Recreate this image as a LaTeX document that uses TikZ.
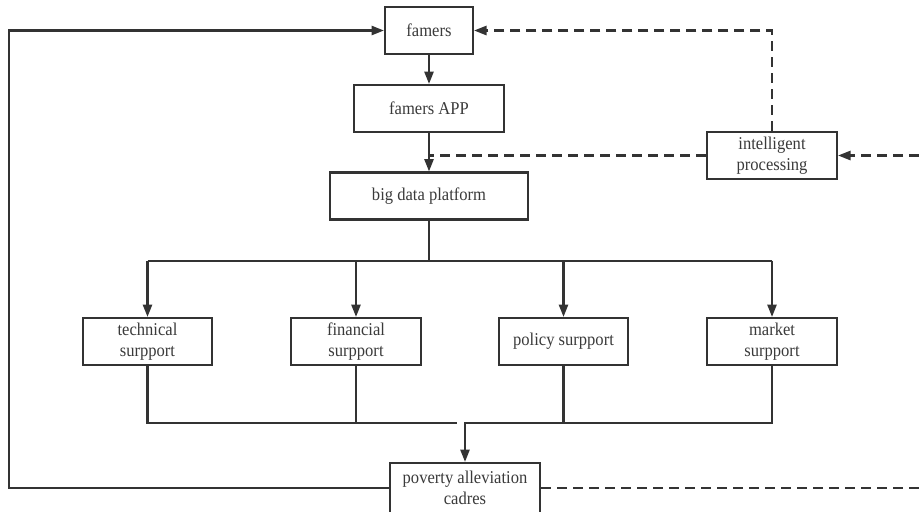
\documentclass[tikz,border=0pt]{standalone}
\usepackage{fontspec}
\setmainfont{Liberation Serif}[FakeStretch=0.92]
\usetikzlibrary{arrows.meta,calc}
\definecolor{lc}{HTML}{333333}
\definecolor{tc}{HTML}{3a3a3a}
\begin{document}
\begin{tikzpicture}[x=0.5pt,y=-0.5pt,
  box/.style={draw=lc, line width=1.1pt, fill=white, inner sep=0pt, align=center,
    font=\fontsize{9}{10.8}\selectfont, text=tc, minimum height=23.5pt},
  conn/.style={draw=lc, line width=1.05pt},
  arr/.style={conn, -{Triangle[length=6.2pt,width=4.6pt]}},
  dsh/.style={dash pattern=on 5pt off 3pt}]
\useasboundingbox (0,0) rectangle (919,511);
\node[box, minimum width=44pt] (fam) at (429,30.5) {famers};
\node[box, minimum width=75pt] (app) at (429,108.5) {famers APP};
\node[box, minimum width=99pt] (bd) at (429,196) {big data platform};
\node[box, minimum width=65pt] (ip) at (772,155.5) {intelligent\\processing};
\node[box, minimum width=64.5pt] (tech) at (147.5,341.5) {technical\\surpport};
\node[box, minimum width=65pt] (fin) at (356,341.5) {financial\\surpport};
\node[box, minimum width=64.5pt] (pol) at (563.5,341.5) {policy surpport};
\node[box, minimum width=65pt] (mkt) at (772,341.5) {market\\surpport};
\node[box, minimum width=75pt, minimum height=25pt] (pov) at (465,488) {poverty alleviation\\cadres};
\coordinate (R1) at (919,155.5);
\coordinate (R2) at (919,488);
% main flow
\draw[arr] (fam) -- (app);
\draw[arr] (app) -- (bd);
\draw[conn,dsh] (ip.west) -- (ip.west -| bd.north);
\draw[arr,dsh] (ip.north) |- (fam.east);
\draw[arr,dsh] (R1) -- (ip.east);
\draw[conn,dsh] (pov.east) -- (R2);
% distribution
\draw[conn] (bd.south) -- ++(0,40) coordinate (j);
\draw[conn] (tech.north |- j) -- (mkt.north |- j);
\foreach \n in {tech,fin,pol,mkt} \draw[arr] (\n.north |- j) -- (\n.north);
% collection
\coordinate (k) at (0,423);
\draw[conn] (tech.south) |- ($(pov.north |- k)+(-8,0)$);
\draw[conn] (fin.south) -- (fin.south |- k);
\draw[conn] (pol.south) -- (pol.south |- k);
\draw[arr] (mkt.south) |- (pov.north |- k) -- (pov.north);
% feedback loop
\draw[arr] (pov.west) -- ++(-380,0) |- (fam.west);
\end{tikzpicture}
\end{document}
